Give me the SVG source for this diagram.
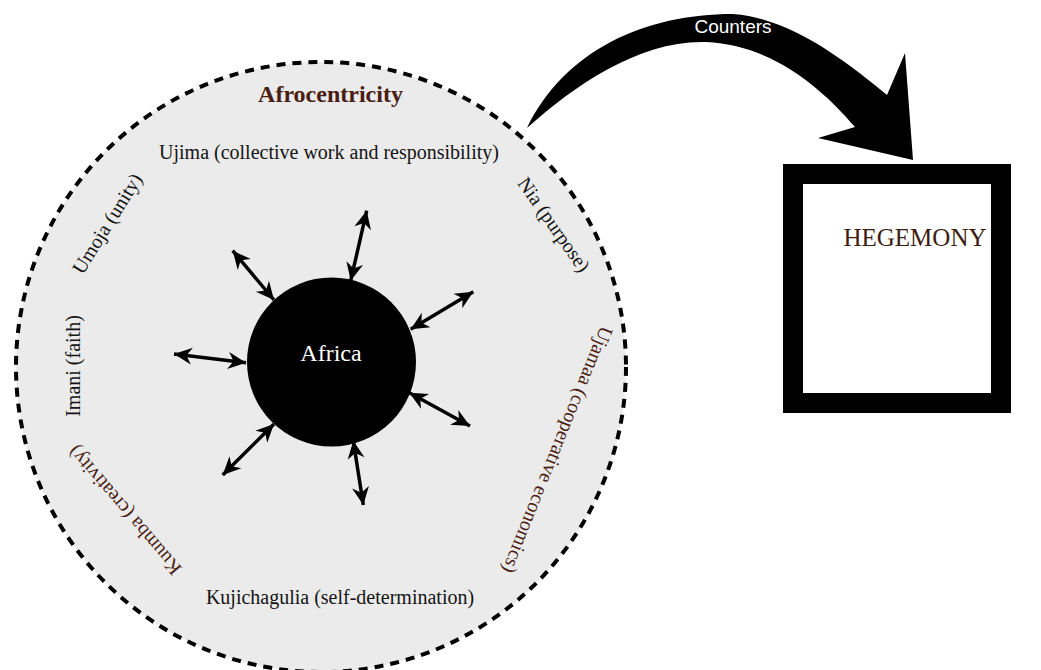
<svg xmlns="http://www.w3.org/2000/svg" width="1041" height="670" viewBox="0 0 1041 670">
  <style>
    .serif { font-family: "Liberation Serif", "Times New Roman", serif; font-size: 20px; fill: #141414; }
    .brown { fill: #4a1d12; }
    .title { font-size: 24px; font-weight: bold; text-anchor: middle; }
    .principle { text-anchor: middle; }
    .ray { stroke: #000; stroke-width: 3.5; fill: none; marker-start: url(#head); marker-end: url(#head); }
  </style>
  <defs>
    <marker id="head" viewBox="-19 -9.5 20 19" refX="0" refY="0" markerWidth="20" markerHeight="19" markerUnits="userSpaceOnUse" orient="auto-start-reverse">
      <path d="M0,0 L-18,-8.5 L-12.5,0 L-18,8.5 Z" fill="#000"/>
    </marker>
  </defs>

  <rect width="1041" height="670" fill="#ffffff"/>

  <!-- Afrocentricity ring -->
  <g id="afrocentricity">
    <circle cx="321" cy="367" r="305" fill="#ebebeb" stroke="#000" stroke-width="4" stroke-dasharray="9 7"/>
    <text class="serif brown title" x="330.5" y="101.5">Afrocentricity</text>
  </g>

  <!-- the seven principles around the ring -->
  <g id="ujima"><text class="serif principle" x="329" y="159.3">Ujima (collective work and responsibility)</text></g>
  <g id="nia"><text class="serif principle" transform="translate(548.4,228.4) rotate(55)">Nia (purpose)</text></g>
  <g id="ujamaa"><text class="serif principle brown" transform="translate(551.5,447.5) rotate(112)">Ujamaa (cooperative economics)</text></g>
  <g id="kujichagulia"><text class="serif principle" x="340" y="604">Kujichagulia (self-determination)</text></g>
  <g id="kuumba"><text class="serif principle brown" transform="translate(129.6,506.1) rotate(-130.5)">Kuumba (creativity)</text></g>
  <g id="imani"><text class="serif principle" transform="translate(80,366) rotate(-90)">Imani (faith)</text></g>
  <g id="umoja"><text class="serif principle" transform="translate(112.8,227.2) rotate(-58)">Umoja (unity)</text></g>

  <!-- central node -->
  <g id="africa">
    <circle cx="331.5" cy="362" r="84.5" fill="#000"/>
    <text x="331" y="360.7" text-anchor="middle" font-family="Liberation Serif, Times New Roman, serif" font-size="24" fill="#ffffff">Africa</text>
  </g>

  <!-- hegemony box -->
  <g id="hegemony">
    <rect x="793" y="174" width="208" height="229" fill="#ffffff" stroke="#000" stroke-width="20"/>
    <text x="915" y="246" text-anchor="middle" font-family="Liberation Serif, Times New Roman, serif" font-size="25" fill="#3d1c14">HEGEMONY</text>
  </g>

  <!-- connectors -->
  <g id="connectors">
    <line class="ray" x1="350.7" y1="280.7" x2="366.7" y2="210.7"/>
    <line class="ray" x1="274" y1="300" x2="232.7" y2="250.7"/>
    <line class="ray" x1="410.7" y1="329.3" x2="473.3" y2="291.7"/>
    <line class="ray" x1="246" y1="362.7" x2="174" y2="354"/>
    <line class="ray" x1="409.3" y1="392.7" x2="470" y2="426"/>
    <line class="ray" x1="274" y1="424" x2="222.7" y2="475"/>
    <line class="ray" x1="353.3" y1="440.7" x2="363.3" y2="505"/>

    <!-- tapered "Counters" arrow from the ring to the hegemony box -->
    <g id="counters">
      <path d="M527,128 C565,50 645,14 733,14 C790,18 845,60 887,95 L905,53 L913,160 L818,138 L855,127 C825,92 775,45 706,42 C640,40 575,85 527,128 Z" fill="#000"/>
      <text x="733" y="33" text-anchor="middle" font-family="Liberation Sans, Arial, sans-serif" font-size="19" fill="#ffffff">Counters</text>
    </g>
  </g>
</svg>
